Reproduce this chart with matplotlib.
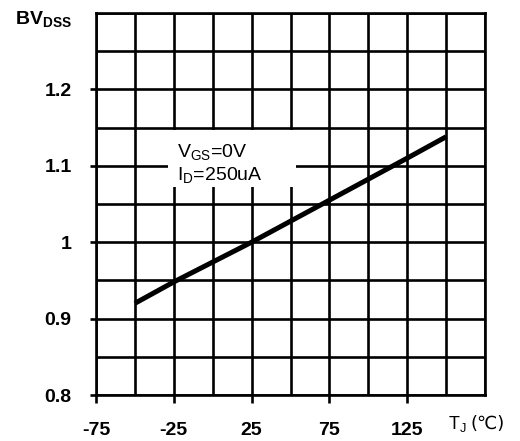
import matplotlib
matplotlib.use("Agg")
import matplotlib.pyplot as plt
from matplotlib.patches import Rectangle

plt.rcParams['font.family'] = ['Liberation Sans', 'DejaVu Sans']
plt.rcParams['mathtext.fontset'] = 'custom'
plt.rcParams['mathtext.rm'] = 'Liberation Sans'
plt.rcParams['mathtext.it'] = 'Liberation Sans'
plt.rcParams['mathtext.bf'] = 'Liberation Sans:bold'
plt.rcParams['axes.unicode_minus'] = False

# junction temperature vs normalized breakdown voltage
tj = [-50, -25, 25, 75, 125, 150]
bv = [0.92, 0.948, 1.0, 1.055, 1.11, 1.138]

x_ticks = [-75, -25, 25, 75, 125]
y_ticks = [0.8, 0.9, 1.0, 1.1, 1.2]
y_labels = ['0.8', '0.9', '1', '1.1', '1.2']

fig = plt.figure(figsize=(5.2, 4.41), dpi=100)
ax = fig.add_axes([96 / 520, 46 / 441, 389 / 520, 382 / 441])
ax.set_xlim(-75, 175)
ax.set_ylim(0.8, 1.3)

# grid every 25 degC / 0.05
for gx in range(-75, 176, 25):
    ax.axvline(gx, color='black', lw=1.9, zorder=1)
for i in range(11):
    ax.axhline(0.8 + i * 0.05, color='black', lw=1.9, zorder=1)

for s in ax.spines.values():
    s.set_linewidth(1.9)

ax.set_xticks(x_ticks)
ax.set_yticks(y_ticks)
ax.set_yticklabels(y_labels)
ax.tick_params(axis='both', width=1.9, direction='out', labelsize=14)
ax.tick_params(axis='x', length=5.5, pad=14)
ax.tick_params(axis='y', length=4.5, pad=13)
for lab in ax.get_xticklabels() + ax.get_yticklabels():
    lab.set_fontweight('bold')

ax.plot(tj, bv, color='black', lw=3.6, solid_capstyle='butt', zorder=3)

# white box behind the test conditions
ax.add_patch(Rectangle((-29, 1.072), 82.5, 0.075, facecolor='white',
                       edgecolor='none', zorder=2))
ax.text(-23, 1.118, r'V$_{\rm GS}$=0V', fontsize=14, va='center',
        zorder=4)
ax.text(-23, 1.088, r'I$_{\rm D}$=250uA', fontsize=14, va='center',
        zorder=4)

fig.text(15 / 520, 1 - 19 / 441, r'$\mathbf{BV_{DSS}}$', fontsize=14,
         va='center', ha='left')
fig.text(448 / 520, 1 - 424 / 441, r'T$_{\rm J}$', fontsize=13,
         va='center', ha='left')
fig.text(470 / 520, 1 - 424 / 441, '(℃)', fontsize=13,
         va='center', ha='left', family=['DejaVu Sans'])

fig.savefig('out.png', dpi=100)
